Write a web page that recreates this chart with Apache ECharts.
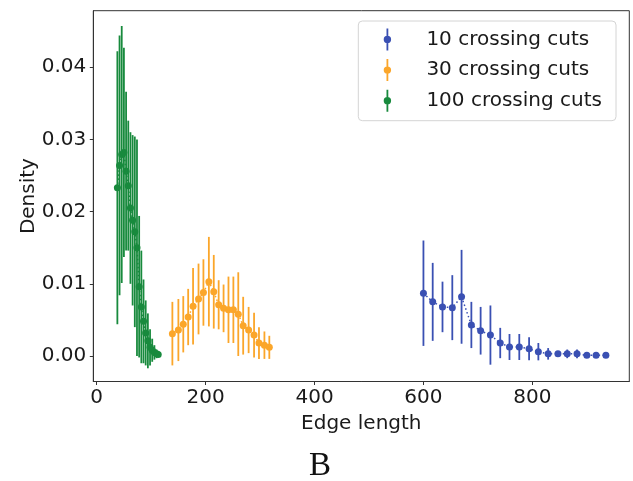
<!DOCTYPE html>
<html>
<head>
<meta charset="utf-8">
<script src="https://cdn.jsdelivr.net/npm/echarts@6/dist/echarts.min.js"></script>
<style>
  html, body { margin: 0; padding: 0; background: #fff; }
  #chart { width: 633px; height: 481px; }
</style>
</head>
<body>
<div id="chart"></div>
<script>
// Edge-length density for three crossing-cut settings (mean with +/- error)
const seriesNames = ['10 crossing cuts', '30 crossing cuts', '100 crossing cuts'];
const seriesColors = ['#3a50b3', '#fba62a', '#188a3d'];

const blueX = [600, 617, 635, 653, 670, 688, 705, 723, 741, 758, 776, 794, 811, 829, 847, 864, 882, 900, 917, 935];
const blueY = [0.0087, 0.0075, 0.0068, 0.0067, 0.0082, 0.0043, 0.0035, 0.0029, 0.0018, 0.00125, 0.00125, 0.0010, 0.0006, 0.0003, 0.0003, 0.0003, 0.0003, 0.0001, 0.0001, 0.0001];
const blueErr = [0.0073, 0.0054, 0.0035, 0.0045, 0.0065, 0.0032, 0.0033, 0.0041, 0.0021, 0.0018, 0.0018, 0.0016, 0.0012, 0.0008, 0.0004, 0.0006, 0.0006, 0.0002, 0, 0];

const orangeX = [139, 150, 159, 168, 177, 187, 196, 206, 215, 224, 233, 242, 251, 260, 269, 279, 289, 298, 308, 317];
const orangeY = [0.0031, 0.0036, 0.0044, 0.0054, 0.0069, 0.0079, 0.0088, 0.0103, 0.0089, 0.0071, 0.0066, 0.0064, 0.0064, 0.0058, 0.0042, 0.0036, 0.0029, 0.0018, 0.0015, 0.0012];
const orangeErr = [0.0044, 0.0043, 0.0039, 0.0039, 0.0053, 0.0049, 0.0046, 0.0062, 0.0051, 0.0034, 0.0033, 0.0046, 0.0046, 0.0058, 0.0040, 0.0032, 0.0031, 0.0022, 0.0019, 0.0016];

const greenX = [38, 42, 46, 50, 54, 58, 62, 66, 70, 74, 78, 82, 86, 90, 94, 98, 102, 106, 110, 113];
const greenY = [0.0233, 0.0264, 0.0279, 0.0282, 0.0256, 0.0236, 0.0205, 0.0188, 0.0172, 0.0150, 0.0096, 0.0068, 0.0048, 0.0032, 0.0021, 0.0012, 0.0008, 0.0005, 0.0003, 0.0002];
const greenErr = [0.0189, 0.0180, 0.0178, 0.0145, 0.0110, 0.0090, 0.0105, 0.0118, 0.0132, 0.0150, 0.0098, 0.0078, 0.0058, 0.0045, 0.0038, 0.0025, 0.0016, 0.0010, 0.0006, 0.0003];

const xTicks = [0, 200, 400, 600, 800];
const yTicks = [0, 0.01, 0.02, 0.03, 0.04];

const groups = [
  { x: blueX, y: blueY, e: blueErr },
  { x: orangeX, y: orangeY, e: orangeErr },
  { x: greenX, y: greenY, e: greenErr }
];

const FONT = 'DejaVu Sans';
const TEXT = '#1a1a1a';
const FRAME = '#333333';

// legend glyph: vertical error line with a round marker in the middle
const errIcon = 'path://M3.1,0 L4.9,0 L4.9,8 L3.1,8 Z M3.1,14 L4.9,14 L4.9,22 L3.1,22 Z M4,7.3 A3.7,3.7 0 1,1 4,14.7 A3.7,3.7 0 1,1 4,7.3 Z';

const series = [];
groups.forEach((g, i) => {
  const color = seriesColors[i];
  const pts = g.x.map((x, k) => [x, g.y[k], g.e[k]]);
  series.push({
    name: seriesNames[i],
    type: 'custom',
    z: 2 + i * 2,
    data: pts,
    encode: { x: 0, y: 1 },
    renderItem: function (params, api) {
      const x = api.value(0), y = api.value(1), e = api.value(2);
      const lo = api.coord([x, y - e]);
      const hi = api.coord([x, y + e]);
      return {
        type: 'line',
        shape: { x1: lo[0], y1: lo[1], x2: hi[0], y2: hi[1] },
        style: { stroke: color, lineWidth: 1.8 }
      };
    },
    silent: true
  });
  series.push({
    name: seriesNames[i],
    type: 'line',
    z: 3 + i * 2,
    data: pts.map(p => [p[0], p[1]]),
    symbol: 'circle',
    symbolSize: 7,
    showAllSymbol: true,
    itemStyle: { color: color },
    lineStyle: { color: color, width: 1.5, type: [1.5, 2.5] },
    silent: true
  });
});

const chart = echarts.init(document.getElementById('chart'), null, { renderer: 'canvas' });
chart.setOption({
  animation: false,
  backgroundColor: '#ffffff',
  textStyle: { fontFamily: FONT },
  title: {
    text: 'B',
    left: 309,
    top: 450,
    padding: 0,
    textStyle: { fontFamily: 'Liberation Serif', fontWeight: 'normal', fontSize: 33, color: '#111' }
  },
  grid: {
    left: 93.3, right: 3.7, top: 10.7, bottom: 99.5,
    show: true, borderColor: FRAME, borderWidth: 1,
    outerBoundsMode: 'none'
  },
  legend: {
    orient: 'vertical',
    left: 358.3,
    top: 21,
    padding: [7.5, 14, 9, 25.4],
    itemGap: 8.6,
    itemWidth: 8,
    itemHeight: 22,
    borderColor: '#d4d4d4',
    borderWidth: 1,
    borderRadius: 4,
    selectedMode: false,
    textStyle: { fontFamily: FONT, fontSize: 20, color: TEXT, lineHeight: 22, padding: [0, 0, 0, 30] },
    data: seriesNames.map((n, i) => ({ name: n, icon: errIcon, itemStyle: { color: seriesColors[i] } }))
  },
  xAxis: {
    type: 'value',
    min: -6.2,
    max: 978,
    name: 'Edge length',
    nameLocation: 'middle',
    nameGap: 32,
    nameMoveOverlap: false,
    nameTextStyle: { fontFamily: FONT, fontSize: 20, color: TEXT },
    axisLine: { show: true, onZero: false, lineStyle: { color: FRAME, width: 1 } },
    axisTick: { show: true, length: 3.5, customValues: xTicks, lineStyle: { color: FRAME, width: 1 } },
    axisLabel: { customValues: xTicks, margin: 6, fontFamily: FONT, fontSize: 20, color: TEXT },
    splitLine: { show: false }
  },
  yAxis: {
    type: 'value',
    min: -0.00353,
    max: 0.04783,
    name: 'Density',
    nameLocation: 'middle',
    nameGap: 55,
    nameMoveOverlap: false,
    nameTextStyle: { fontFamily: FONT, fontSize: 20, color: TEXT },
    axisLine: { show: true, onZero: false, lineStyle: { color: FRAME, width: 1 } },
    axisTick: { show: true, length: 3.5, customValues: yTicks, lineStyle: { color: FRAME, width: 1 } },
    axisLabel: {
      customValues: yTicks, margin: 7, fontFamily: FONT, fontSize: 20, color: TEXT,
      formatter: v => v.toFixed(2)
    },
    splitLine: { show: false }
  },
  series: series
});
</script>
</body>
</html>
